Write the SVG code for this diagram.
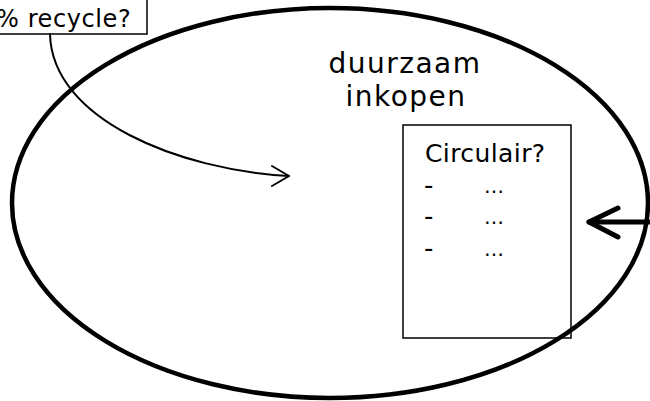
<svg xmlns="http://www.w3.org/2000/svg" width="650" height="401" viewBox="0 0 650 401">
  <style>
    .txt { font-family: "DejaVu Sans", Verdana, sans-serif; fill: #000; }
    .box { fill: #fff; stroke: #000; stroke-width: 1.5; }
    .thin { fill: none; stroke: #000; stroke-width: 2; stroke-linecap: round; stroke-linejoin: round; }
    .thick { fill: none; stroke: #000; stroke-width: 5; stroke-linecap: round; stroke-linejoin: round; }
  </style>
  <rect width="650" height="401" fill="#fff"/>

  <g id="circulair">
    <rect class="box" x="403" y="125" width="168" height="213"/>
    <text class="txt" x="425" y="162" font-size="25" letter-spacing="0.4">Circulair?</text>
    <text class="txt" x="424" y="194" font-size="26">-</text>
    <text class="txt" x="424" y="225" font-size="26">-</text>
    <text class="txt" x="424" y="257" font-size="26">-</text>
    <text class="txt" x="484" y="193" font-size="20">…</text>
    <text class="txt" x="484" y="224" font-size="20">…</text>
    <text class="txt" x="484" y="256" font-size="20">…</text>
  </g>

  <g id="duurzaam-inkopen">
    <ellipse cx="330" cy="203" rx="318" ry="195" fill="none" stroke="#000" stroke-width="4.5"/>
    <text class="txt" x="405" y="73" font-size="28" letter-spacing="1.5" text-anchor="middle">duurzaam</text>
    <text class="txt" x="406" y="106" font-size="28" letter-spacing="1.5" text-anchor="middle">inkopen</text>
  </g>

  <g id="recycle">
    <rect class="box" x="-5" y="-5" width="152" height="39"/>
    <text class="txt" x="-4" y="27" font-size="24" letter-spacing="0.6">% recycle?</text>
  </g>

  <g id="connectors">
    <path class="thin" d="M50,34 C52,120 180,170 289,176"/>
    <path class="thin" d="M272,166 L289,176 L272,186"/>
    <path class="thick" d="M652,222 L589,222"/>
    <path class="thick" d="M618,208 L589,222 L618,237"/>
  </g>
</svg>
